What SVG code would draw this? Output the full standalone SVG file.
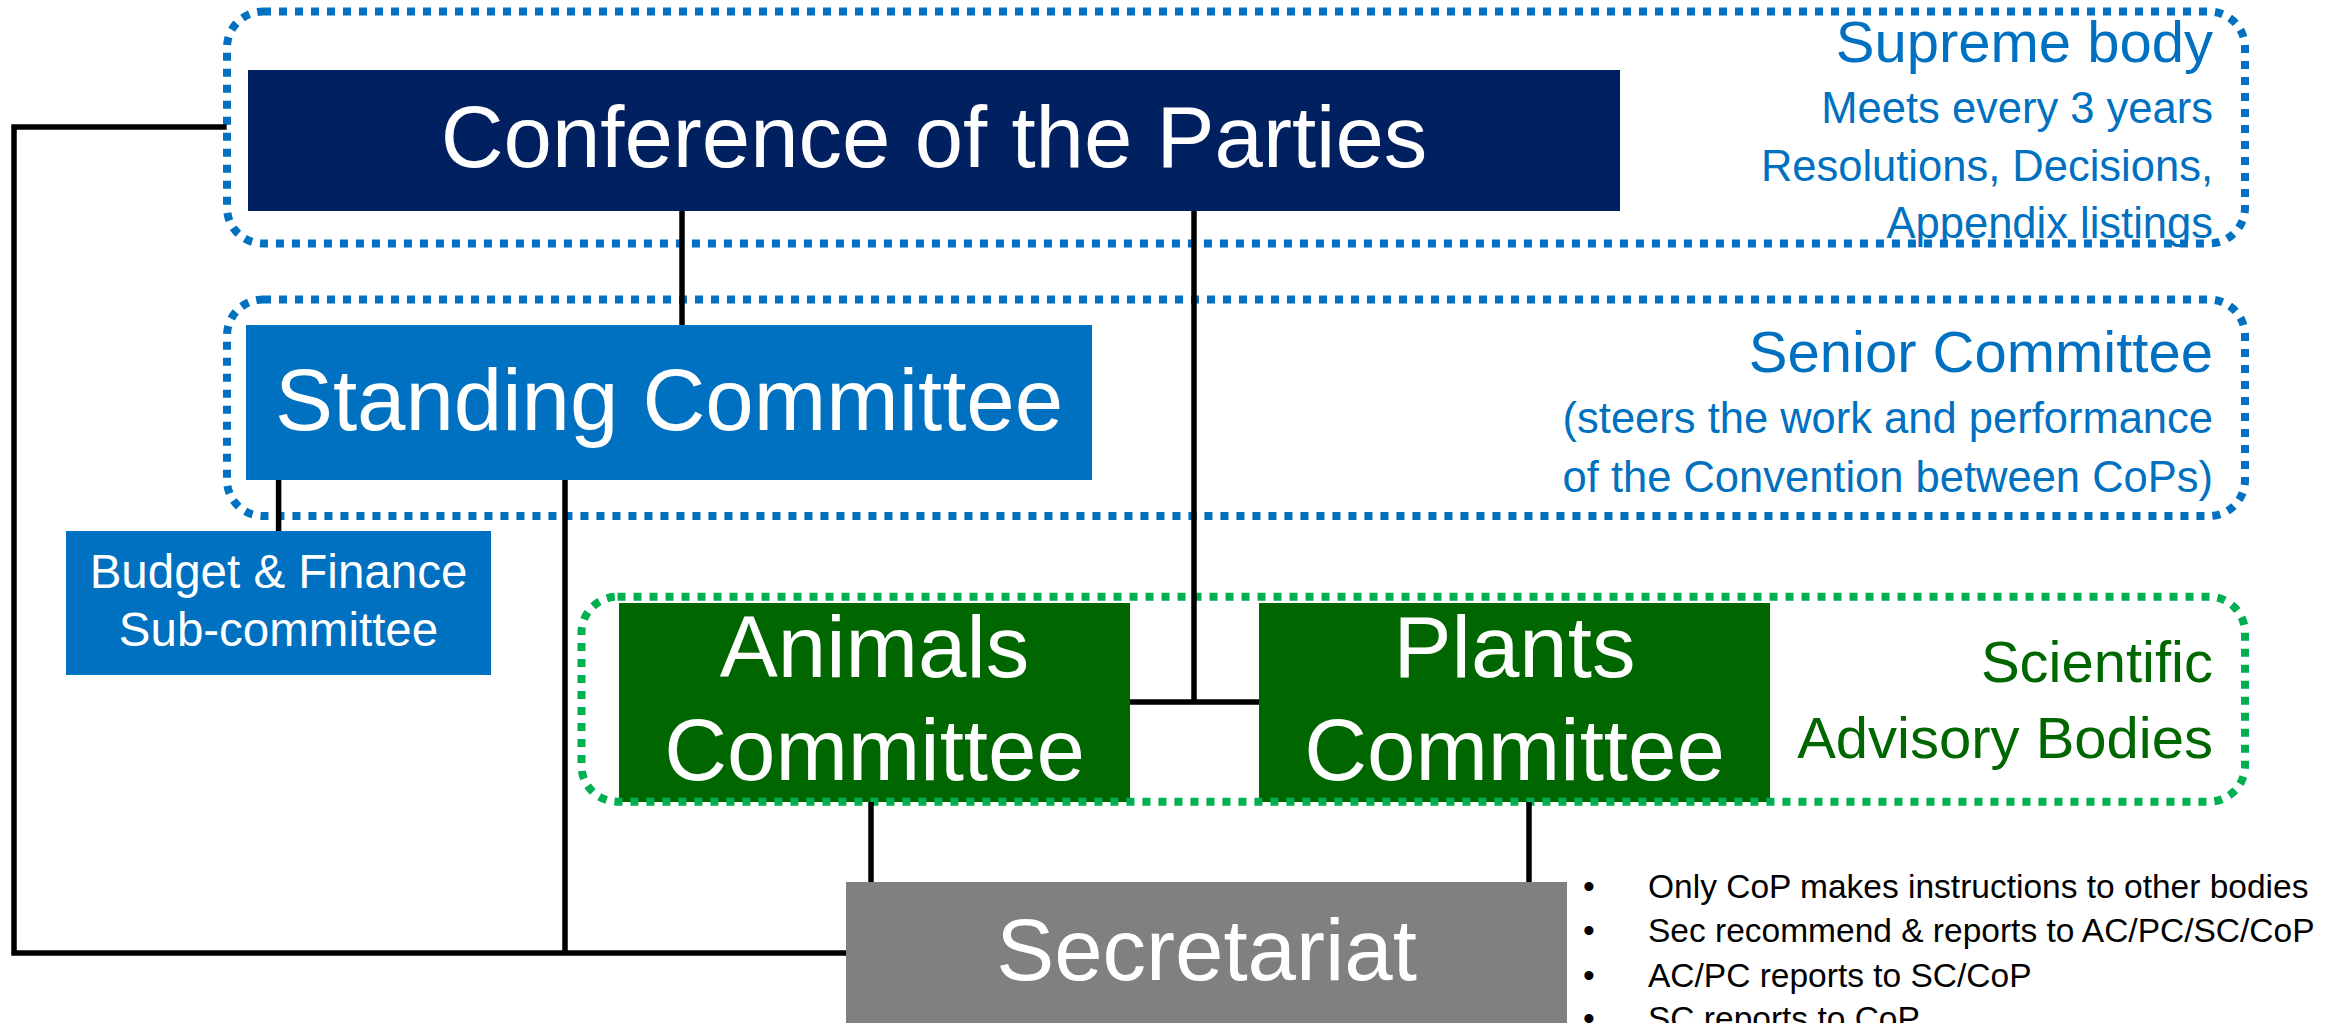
<svg xmlns="http://www.w3.org/2000/svg" width="2344" height="1023" viewBox="0 0 2344 1023">
<style>
text{font-family:"Liberation Sans",Arial,sans-serif}
.node{stroke:none}
.big{font-size:87px;fill:#fff;text-anchor:middle}
.mid{font-size:47.5px;fill:#fff;text-anchor:middle}
.frame{fill:none;stroke-width:8;stroke-dasharray:8 8}
.fb{stroke:#0070C0}
.fg{stroke:#00B050}
.hd{font-size:58px;text-anchor:end}
.sub{font-size:43.5px;text-anchor:end}
.blue{fill:#0070C0}
.green{fill:#006600}
.conn{fill:none;stroke:#000;stroke-width:5.5}
.bul{font-size:33.5px;fill:#000}
</style>
<rect width="2344" height="1023" fill="#fff"/>

<g id="cop">
<rect class="node" x="248" y="70" width="1372" height="141" fill="#002060"/>
<text class="big" x="934" y="167">Conference of the Parties</text>
</g>
<g id="standing-committee">
<rect class="node" x="246" y="325" width="846" height="155" fill="#0070C0"/>
<text class="big" x="669" y="430">Standing Committee</text>
</g>
<g id="budget-finance">
<rect class="node" x="66" y="531" width="425" height="144" fill="#0070C0"/>
<text class="mid" x="278.5" y="588">Budget &amp; Finance</text>
<text class="mid" x="278.5" y="646">Sub-committee</text>
</g>
<g id="animals-committee">
<rect class="node" x="619" y="603" width="511" height="199" fill="#006600"/>
<text class="big" x="874.5" y="677">Animals</text>
<text class="big" x="874.5" y="780">Committee</text>
</g>
<g id="plants-committee">
<rect class="node" x="1259" y="603" width="511" height="199" fill="#006600"/>
<text class="big" x="1514.5" y="677">Plants</text>
<text class="big" x="1514.5" y="780">Committee</text>
</g>
<g id="secretariat">
<rect class="node" x="846" y="882" width="721" height="160" fill="#808080"/>
<text class="big" x="1206.5" y="980">Secretariat</text>
</g>

<g id="frame-supreme">
<text class="hd blue" x="2213" y="62">Supreme body</text>
<text class="sub blue" x="2213" y="123">Meets every 3 years</text>
<text class="sub blue" x="2213" y="181">Resolutions, Decisions,</text>
<text class="sub blue" x="2213" y="238">Appendix listings</text>
<rect class="frame fb" x="227" y="11.5" width="2018" height="232" rx="36" ry="36"/>
</g>
<g id="frame-senior">
<text class="hd blue" x="2213" y="372">Senior Committee</text>
<text class="sub blue" x="2213" y="433">(steers the work and performance</text>
<text class="sub blue" x="2213" y="492">of the Convention between CoPs)</text>
<rect class="frame fb" x="227" y="299.5" width="2018" height="216.5" rx="36" ry="36"/>
</g>
<g id="frame-scientific">
<text class="hd green" x="2213" y="682">Scientific</text>
<text class="hd green" x="2213" y="758">Advisory Bodies</text>
<rect class="frame fg" x="581.5" y="596.7" width="1663.5" height="205" rx="36" ry="36"/>
</g>

<g id="connectors">
<path class="conn" d="M226.7 127 H14 V953 H846"/>
<path class="conn" d="M565 480 V953"/>
<path class="conn" d="M278.6 480 V531"/>
<path class="conn" d="M682 211 V325"/>
<path class="conn" d="M1194 211 V702"/>
<path class="conn" d="M1130 702 H1259"/>
<path class="conn" d="M871 802 V882"/>
<path class="conn" d="M1529 802 V882"/>
</g>

<g id="notes">
<text class="bul" x="1583" y="898">•</text>
<text class="bul" x="1648" y="898">Only CoP makes instructions to other bodies</text>
<text class="bul" x="1583" y="942">•</text>
<text class="bul" x="1648" y="942">Sec recommend &amp; reports to AC/PC/SC/CoP</text>
<text class="bul" x="1583" y="986.5">•</text>
<text class="bul" x="1648" y="986.5">AC/PC reports to SC/CoP</text>
<text class="bul" x="1583" y="1030">•</text>
<text class="bul" x="1648" y="1030">SC reports to CoP</text>
</g>
</svg>
